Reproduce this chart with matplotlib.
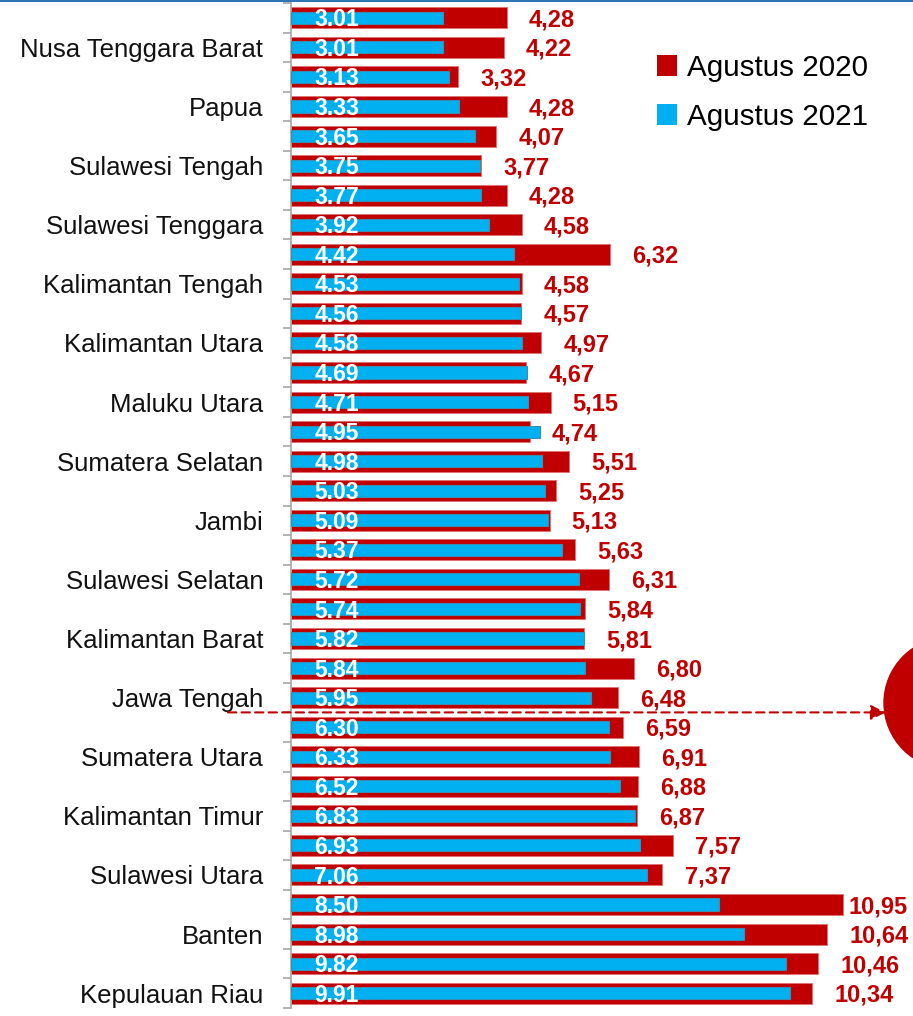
import matplotlib
matplotlib.use("Agg")
import matplotlib.pyplot as plt
from matplotlib.patches import Patch, Circle
from matplotlib.lines import Line2D
import matplotlib.ticker as mticker

plt.rcParams['font.family'] = ['Liberation Sans', 'DejaVu Sans']

labels = ["", "Nusa Tenggara Barat", "", "Papua", "", "Sulawesi Tengah", "",
          "Sulawesi Tenggara", "", "Kalimantan Tengah", "", "Kalimantan Utara", "",
          "Maluku Utara", "", "Sumatera Selatan", "", "Jambi", "", "Sulawesi Selatan",
          "", "Kalimantan Barat", "", "Jawa Tengah", "", "Sumatera Utara", "",
          "Kalimantan Timur", "", "Sulawesi Utara", "", "Banten", "", "Kepulauan Riau"]
aug2020 = [4.28, 4.22, 3.32, 4.28, 4.07, 3.77, 4.28, 4.58, 6.32, 4.58, 4.57, 4.97,
           4.67, 5.15, 4.74, 5.51, 5.25, 5.13, 5.63, 6.31, 5.84, 5.81, 6.80, 6.48,
           6.59, 6.91, 6.88, 6.87, 7.57, 7.37, 10.95, 10.64, 10.46, 10.34]
aug2021 = [3.01, 3.01, 3.13, 3.33, 3.65, 3.75, 3.77, 3.92, 4.42, 4.53, 4.56, 4.58,
           4.69, 4.71, 4.95, 4.98, 5.03, 5.09, 5.37, 5.72, 5.74, 5.82, 5.84, 5.95,
           6.30, 6.33, 6.52, 6.83, 6.93, 7.06, 8.50, 8.98, 9.82, 9.91]
series_names = ["Agustus 2020", "Agustus 2021"]

RED = "#C00000"
BLUE = "#00B0F0"

W, H, DPI = 913, 1016, 100
fig = plt.figure(figsize=(W / DPI, H / DPI), dpi=DPI)
ax_left = 291 / W
ax_top = 1 - 3 / H
ax_bot = 1 - 1008 / H
ax = fig.add_axes([ax_left, ax_bot, 1 - ax_left, ax_top - ax_bot])

n = len(labels)
ypos = list(range(n))
ax.barh(ypos, aug2020, height=0.71, color=RED, edgecolor="#E07070", linewidth=0.6, zorder=2)
ax.barh(ypos, aug2021, height=0.41, color=BLUE, edgecolor="#3A8DB0", linewidth=0.8, zorder=3)

xmax = (W - 291) / 50.4
ax.set_xlim(0, xmax)
ax.set_ylim(n - 0.5, -0.5)

fig.canvas.draw()
renderer = fig.canvas.get_renderer()
for y, v21, v20 in zip(ypos, aug2021, aug2020):
    ax.text(0.46, y + 0.07, f"{v21:.2f}", color="white", fontsize=16.5, fontweight="bold",
            ha="left", va="center", zorder=4)
    t = ax.text(v20 + 0.44, y + 0.07, f"{v20:.2f}".replace(".", ","), color=RED, fontsize=17,
                fontweight="bold", ha="left", va="center", zorder=4)
    bb = t.get_window_extent(renderer)
    if bb.x1 > W - 4:
        t.set_x(v20 + 0.44 - (bb.x1 - (W - 5)) / 50.4)

for s in ["top", "right", "bottom"]:
    ax.spines[s].set_visible(False)
ax.spines["left"].set_color("#A6A6A6")
ax.spines["left"].set_linewidth(1.2)
ax.set_xticks([])
ax.set_yticks(ypos)
ax.set_yticklabels(labels, fontsize=18.5, color="#111111")
ax.tick_params(axis="y", which="major", length=0, pad=20)
ax.yaxis.set_minor_locator(mticker.FixedLocator([i - 0.5 for i in range(n + 1)]))
ax.tick_params(axis="y", which="minor", length=6, color="#A6A6A6", width=1.2)

# dashed arrow
ax.annotate("", xy=(11.8, 23.5), xytext=(-1.25, 23.5), xycoords="data",
            arrowprops=dict(arrowstyle="-|>,head_length=0.9,head_width=0.45", color=RED,
                            linestyle=(0, (4, 2.5)), linewidth=1.5, shrinkA=0, shrinkB=0),
            annotation_clip=False, zorder=5)

# red circle partially visible on the right
shadow = Circle((9.53, (H - 707) / DPI), 0.66, transform=fig.dpi_scale_trans,
                color="#888888", alpha=0.35, zorder=0)
fig.add_artist(shadow)
circ = Circle((9.50, (H - 703) / DPI), 0.66, transform=fig.dpi_scale_trans,
              color=RED, zorder=1)
fig.add_artist(circ)

# top border line
fig.add_artist(Line2D([0, 1], [1 - 0.8 / H, 1 - 0.8 / H], transform=fig.transFigure,
                      color="#2E75B6", linewidth=1.5))

handles = [Patch(facecolor=RED, edgecolor="none"), Patch(facecolor=BLUE, edgecolor="none")]
fig.legend(handles, series_names, loc="upper left", bbox_to_anchor=(657 / W, 1 - 54 / H),
           frameon=False, fontsize=21.3, handlelength=0.68, handleheight=0.68,
           handletextpad=0.35, labelspacing=0.7, borderpad=0, borderaxespad=0)

fig.savefig("out.png", dpi=DPI)
